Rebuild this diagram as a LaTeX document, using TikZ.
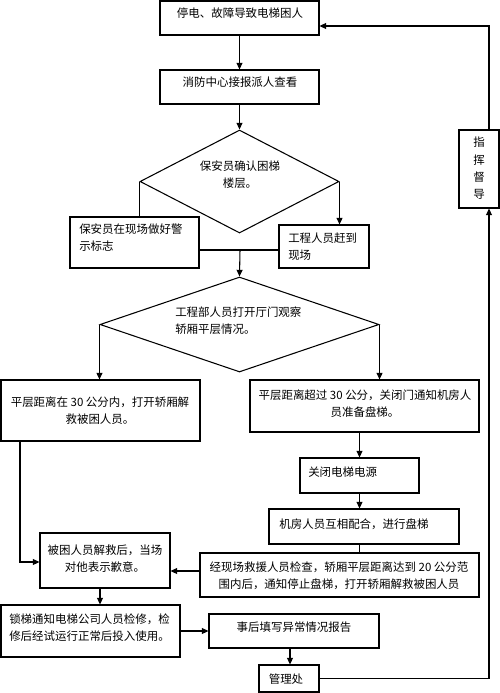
\documentclass[tikz,border=0pt]{standalone}
\usepackage{fontspec}
\setmainfont{Noto Sans CJK SC}
\usetikzlibrary{arrows.meta,fit,shapes.geometric}
\begin{document}
\begin{tikzpicture}[x=0.75pt,y=-0.75pt,
  box/.style={draw,line width=0.8pt,inner sep=0pt},
  dia/.style={draw,line width=0.8pt,diamond,inner sep=0pt,aspect=1},
  txt/.style={inner sep=0pt,font=\fontsize{8.6pt}{12.8pt}\selectfont},
  arr/.style={line width=0.8pt,-{Triangle[length=5pt,width=4.5pt]}},
  ln/.style={line width=0.8pt}]
\useasboundingbox (0,0) rectangle (500,693);
% boxes
\node[box,fit={(160,1)(319,35)}] (b1) {};
\node[box,fit={(160,70)(319,104)}] (b2) {};
\node[dia,minimum width=199*0.75pt,minimum height=103*0.75pt] (d1) at (239.5,181.5) {};
\node[box,fit={(70,217)(199,268)}] (l1) {};
\node[box,fit={(279,225)(369,268)}] (r1) {};
\node[dia,minimum width=279*0.75pt,minimum height=95*0.75pt] (d2) at (239.5,324.5) {};
\node[box,fit={(1,380)(200,441)}] (l3) {};
\node[box,fit={(250,380)(479,432)}] (r3) {};
\node[box,fit={(300,458)(419,493)}] (r4) {};
\node[box,fit={(269,509)(459,544)}] (r5) {};
\node[box,fit={(200,553)(479,597)}] (r6) {};
\node[box,fit={(40,533)(170,588)}] (l4) {};
\node[box,fit={(1,605)(180,657)}] (l5) {};
\node[box,fit={(209,614)(379,648)}] (r7) {};
\node[box,fit={(259,665)(319,692)}] (mg) {};
\node[box,fit={(459,130)(499,208)}] (zh) {};
% texts
\node[txt] (t1) at (240,13) {停电、故障导致电梯困人};
\node[txt] (t2) at (240,82) {消防中心接报派人查看};
\node[txt,align=center] (td1) at (240,175) {保安员确认困梯\\楼层。};
\node[txt,align=left,anchor=west] (tl1) at (79,237.5) {保安员在现场做好警\\示标志};
\node[txt,align=left,anchor=west] (tr1) at (288,246.5) {工程人员赶到\\现场};
\node[txt,align=left,anchor=west] (td2) at (175,320.5) {工程部人员打开厅门观察\\轿厢平层情况。};
\node[txt,align=center] (tl3) at (100,411) {平层距离在 30 公分内，打开轿厢解\\救被困人员。};
\node[txt,align=center] (tr3) at (365,403.5) {平层距离超过 30 公分，关闭门通知机房人\\员准备盘梯。};
\node[txt,anchor=west] (tr4) at (308,472) {关闭电梯电源};
\node[txt] (tr5) at (354,524) {机房人员互相配合，进行盘梯};
\node[txt,align=center] (tr6) at (339,575.5) {经现场救援人员检查，轿厢平层距离达到 20 公分范\\围内后，通知停止盘梯，打开轿厢解救被困人员};
\node[txt,align=center] (tl4) at (105,558.5) {被困人员解救后，当场\\对他表示歉意。};
\node[txt,align=left,anchor=west] (tl5) at (9,627.5) {锁梯通知电梯公司人员检修，检\\修后经试运行正常后投入使用。};
\node[txt] (tr7) at (294,627) {事后填写异常情况报告};
\node[txt] (tmg) at (286,679) {管理处};
\node[txt,align=center,font=\fontsize{8.6pt}{13pt}\selectfont] (tzh) at (479,168.5) {指\\挥\\督\\导};
% helper coordinates
\coordinate (m1) at (240,250);
\coordinate (m2) at (185,571);
\coordinate (m3) at (20,562);
\coordinate (m4) at (100,597);
\coordinate (m5) at (489,26);
\coordinate (m6) at (290,656);
% connectors
\draw[arr] (b1) -- (b2);
\draw[arr] (b2) -- (d1.north);
\draw[ln] (d1.west) -- (d1.west |- l1.north);
\draw[arr] (d1.east) -- (d1.east |- r1.north);
\draw[ln] (l1.east |- m1) -- (r1.west |- m1);
\draw[arr] (m1) -- (d2.north);
\draw[arr] (d2.west) -- (d2.west |- l3.north);
\draw[arr] (d2.east) -- (d2.east |- r3.north);
\draw[arr] (r4 |- r3.south) -- (r4.north);
\draw[arr] (r4.south) -- (r4.south |- r5.north);
\draw[ln] (r4 |- r5.south) -- (r4 |- r6.north);
\draw[arr] (r6.west |- m2) -- (l4.east |- m2);
\draw[arr] (l3.south -| m3) -- (m3) -- (l4.west |- m3);
\draw[arr] (l4.south -| m4) -- (l5.north -| m4);
\draw[arr] (l5.east) -- (r7.west |- l5.east);
\draw[arr] (r7.south -| m6) -- (mg.north -| m6);
\draw[arr] (mg.east) -- (mg.east -| m5) -- (zh.south -| m5);
\draw[arr] (zh.north -| m5) -- (m5) -- (b1.east |- m5);
\end{tikzpicture}
\end{document}
